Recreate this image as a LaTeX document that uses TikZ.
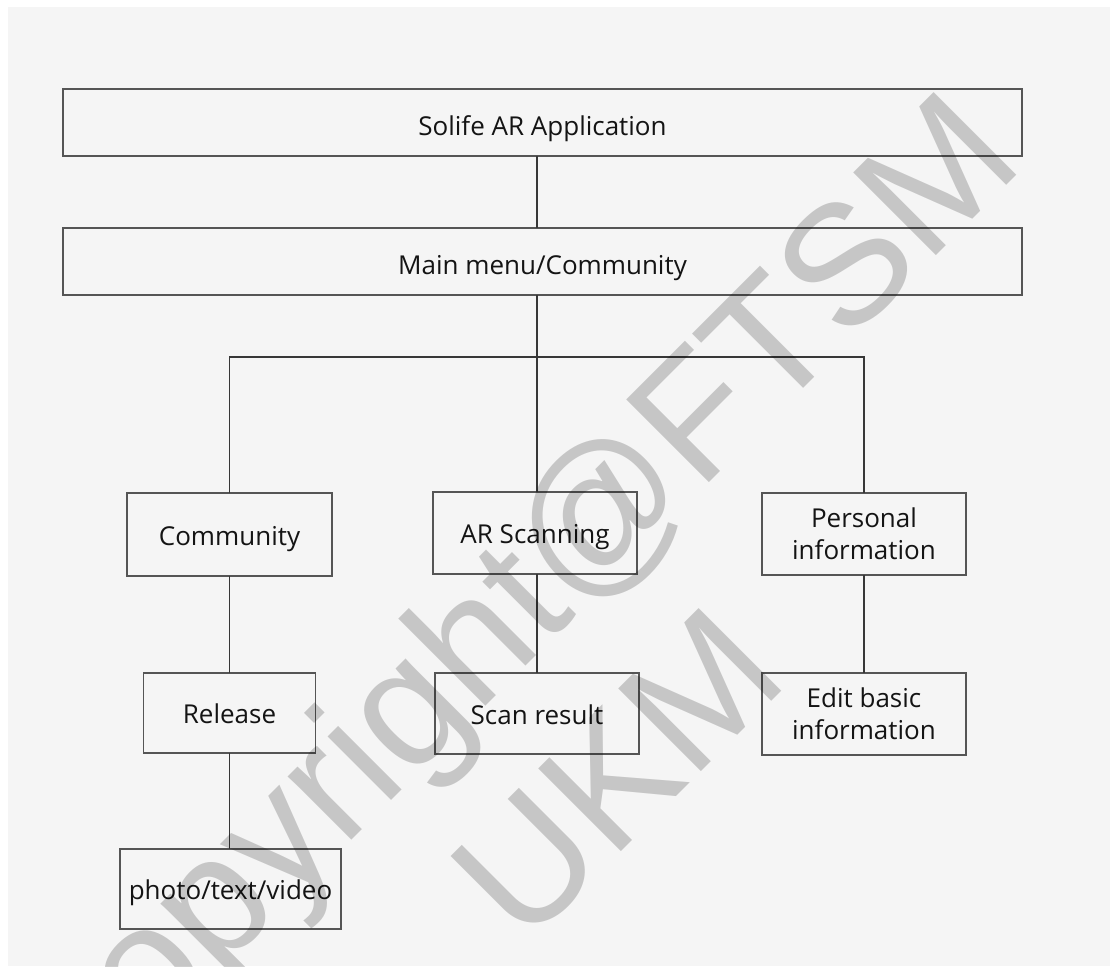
\documentclass[tikz,border=0pt]{standalone}
\usepackage{fontspec}
\setmainfont{Open Sans}
\newfontfamily\markfont{Liberation Sans}
\definecolor{pagebg}{RGB}{245,245,245}
\definecolor{framegray}{RGB}{85,85,85}
\definecolor{wiregray}{RGB}{55,55,55}
\definecolor{labelink}{RGB}{20,20,20}
% two centred lines whose reference point is the first baseline
\newcommand\stackedlines[2]{\vtop{\baselineskip=32pt\halign{\hfil##\hfil\cr#1\cr#2\cr}}}
\begin{document}
\begin{tikzpicture}[x=1pt,y=-1pt,
  box/.style={draw=framegray, line width=1.4pt, inner sep=0pt, outer sep=0pt,
    text=labelink, font=\fontsize{26}{32}\selectfont, text height=21pt, text depth=0pt},
  widebox/.style={box, minimum width=959pt, minimum height=67pt, text height=25pt},
  midbox/.style={box, minimum width=204pt, minimum height=82pt},
  tallbox/.style={box, text height=18.6pt, text depth=32pt},
  link/.style={draw=wiregray, line width=1.4pt},
  stamp/.style={font=\markfont\fontsize{170}{170}\selectfont, text=black,
    text opacity=0.19, rotate=45, anchor=base, inner sep=0pt}]
\useasboundingbox (0,0) rectangle (1110,966);
\fill[white] (0,0) rectangle (1110,966);
\fill[pagebg] (8,7) rectangle (1110,966);

% top levels
\node[widebox] (app)  at (542.5,122.5) {Solife AR Application};
\node[widebox] (menu) at (542.5,261.5) {Main menu/Community};

% second level
\node[midbox, minimum width=205pt, minimum height=83pt] (comm) at (229.5,534.5) {Community};
\node[midbox] (scan) at (535,533) {AR Scanning};
\node[midbox, tallbox] (pers) at (864,534) {\stackedlines{Personal}{information}};

% third level
\node[midbox, minimum width=172pt, minimum height=80pt] (rel) at (229.5,713) {Release};
\node[midbox, minimum height=81pt] (res) at (537,713.5) {Scan result};
\node[midbox, tallbox] (edit) at (864,714) {\stackedlines{Edit basic}{information}};

% fourth level
\node[midbox, minimum width=221pt, minimum height=80pt] (photo) at (230.5,889) {photo/text/video};

% connectors
\coordinate (spine) at (537,357);
\draw[link] (app.south -| spine) -- (menu.north -| spine);
\draw[link] (menu.south -| spine) -- (spine);
\draw[link] (comm.north) |- (spine) -| (pers.north);
\draw[link] (spine) -- (spine |- scan.north);
\draw[link] (comm.south) -- (rel.north);
\draw[link] (scan.south -| res.north) -- (res.north);
\draw[link] (pers.south) -- (edit.north);
\draw[link] (rel.south) -- (rel.south |- photo.north);

% watermark
\node[stamp] (markA) at (545,647) {Copyright@FTSM};
\node[stamp] (markB) at (658,815) {UKM};
\end{tikzpicture}
\end{document}
